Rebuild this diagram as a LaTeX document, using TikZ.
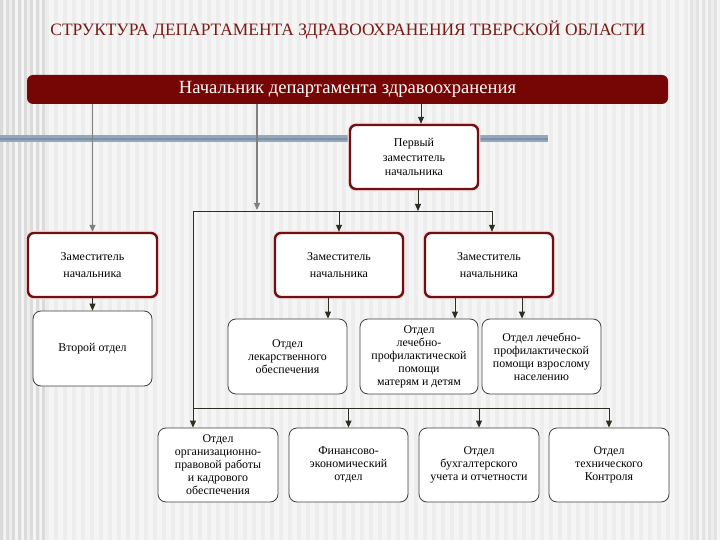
\documentclass[tikz,border=0pt]{standalone}
\usepackage{fontspec}
\setmainfont{Liberation Serif}
\usetikzlibrary{arrows.meta}
\definecolor{bord}{HTML}{721010}
\definecolor{headc}{HTML}{760606}
\definecolor{titlec}{HTML}{7A1A14}
\definecolor{bandc}{HTML}{94A8BC}
\definecolor{bandd}{HTML}{7C92A8}
\definecolor{linec}{HTML}{2E2E20}
\definecolor{glowc}{HTML}{F3DCDC}
\begin{document}
\begin{tikzpicture}[x=1pt,y=-1pt,
  redbox/.style={draw=bord,line width=2.4pt,fill=white,rounded corners=6pt,inner sep=1pt,
     preaction={draw=glowc,line width=4.6pt},
     align=center,font=\fontsize{12}{16.5}\selectfont},
  deptbox/.style={draw=black!75,line width=0.8pt,fill=white,rounded corners=8pt,inner sep=1pt,
     align=center,font=\fontsize{11.9}{13}\selectfont},
  conn/.style={draw=linec,line width=0.8pt},
  arr/.style={conn,-{Triangle[length=7pt,width=6pt]}},
  headline/.style={draw=black!50,line width=1.3pt,-{Triangle[length=7pt,width=6pt]}}]
\useasboundingbox (0,0) rectangle (720,540);
% background
\fill[white!96!black] (0,0) rectangle (720,540);
\foreach \x in {0,9,...,720} {\fill[black!7] (\x,0) rectangle ++(4,540);}
\foreach \x in {0,6,...,45} {\fill[black!14] (\x,0) rectangle ++(3,540);}
\foreach \x in {690,696,...,720} {\fill[black!11] (\x,0) rectangle ++(3,540);}
% band
\fill[bandc] (0,135) rectangle (548,142);
\draw[bandd,line width=1.2pt] (0,139) -- (548,139);
% title
\node[text=titlec,font=\fontsize{17.4}{20}\selectfont] (title) at (348,30) {СТРУКТУРА ДЕПАРТАМЕНТА ЗДРАВООХРАНЕНИЯ ТВЕРСКОЙ ОБЛАСТИ};
% head
\node[fill=headc,rounded corners=6pt,minimum width=641pt,minimum height=29pt,text=white,inner sep=0pt,
  font=\fontsize{18.6}{20}\selectfont] (head) at (347.5,89.5) {Начальник департамента здравоохранения};
% red boxes
\node[redbox,minimum width=128pt,minimum height=64pt,font=\fontsize{12}{14.5}\selectfont] (perv) at (414,157) {Первый\\заместитель\\начальника};
\node[redbox,minimum width=129pt,minimum height=64pt] (zam1) at (92.5,265) {Заместитель\\начальника};
\node[redbox,minimum width=128pt,minimum height=64pt] (zam2) at (339,265) {Заместитель\\начальника};
\node[redbox,minimum width=128pt,minimum height=64pt] (zam3) at (489,265) {Заместитель\\начальника};
% departments
\node[deptbox,minimum width=119pt,minimum height=75pt] (vtor) at (92.5,348.5) {Второй отдел};
\node[deptbox,minimum width=119pt,minimum height=75pt] (lek) at (287.5,356.5) {Отдел\\лекарственного\\обеспечения};
\node[deptbox,minimum width=118pt,minimum height=75pt] (mat) at (419,356.5) {Отдел\\лечебно-\\профилактической\\помощи\\матерям и детям};
\node[deptbox,minimum width=119pt,minimum height=75pt] (vzr) at (541.5,356.5) {Отдел лечебно-\\профилактической\\помощи взрослому\\населению};
\node[deptbox,minimum width=120pt,minimum height=74pt] (b1) at (218,465) {Отдел\\организационно-\\правовой работы\\и кадрового\\обеспечения};
\node[deptbox,minimum width=119pt,minimum height=74pt] (b2) at (348.5,465) {Финансово-\\экономический\\отдел};
\node[deptbox,minimum width=120pt,minimum height=74pt] (b3) at (479,465) {Отдел\\бухгалтерского\\учета и отчетности};
\node[deptbox,minimum width=120pt,minimum height=74pt] (b4) at (609,465) {Отдел\\технического\\Контроля};
% junction coordinates
\coordinate (j1) at (257,210);
\coordinate (jl) at (193,211);
\coordinate (jr) at (492,211);
\coordinate (jp) at (418,211);
\coordinate (k1) at (193,408);
\coordinate (k4) at (609,408);
% connectors from head
\draw[headline] (zam1.north |- head.south) -- (zam1.north);
\draw[headline] (j1 |- head.south) -- (j1);
\draw[arr] ([xshift=7pt]perv.north |- head.south) -- ([xshift=7pt]perv.north);
% first deputy tree
\draw[arr] (jp |- perv.south) -- (jp);
\draw[conn] (jl) -- (jr);
\draw[arr] (jr) -- (jr |- zam3.north);
\draw[arr] (zam2.north |- jl) -- (zam2.north);
% lower tree
\draw[conn] (jl) -- (k1) -- (k4);
\draw[arr] (k1) -- (k1 |- b1.north);
\draw[arr] (b2.north |- k1) -- (b2.north);
\draw[arr] (b3.north |- k1) -- (b3.north);
\draw[arr] (k4) -- (b4.north);
% deputies to departments
\draw[arr] (zam1.south) -- (vtor.north);
\draw[arr] ([xshift=-11pt]zam2.south) -- ([xshift=-11pt]zam2.south |- lek.north);
\draw[arr] ([xshift=-34pt]zam3.south) -- ([xshift=-34pt]zam3.south |- mat.north);
\draw[arr] ([xshift=33pt]zam3.south) -- ([xshift=33pt]zam3.south |- vzr.north);
\end{tikzpicture}
\end{document}
